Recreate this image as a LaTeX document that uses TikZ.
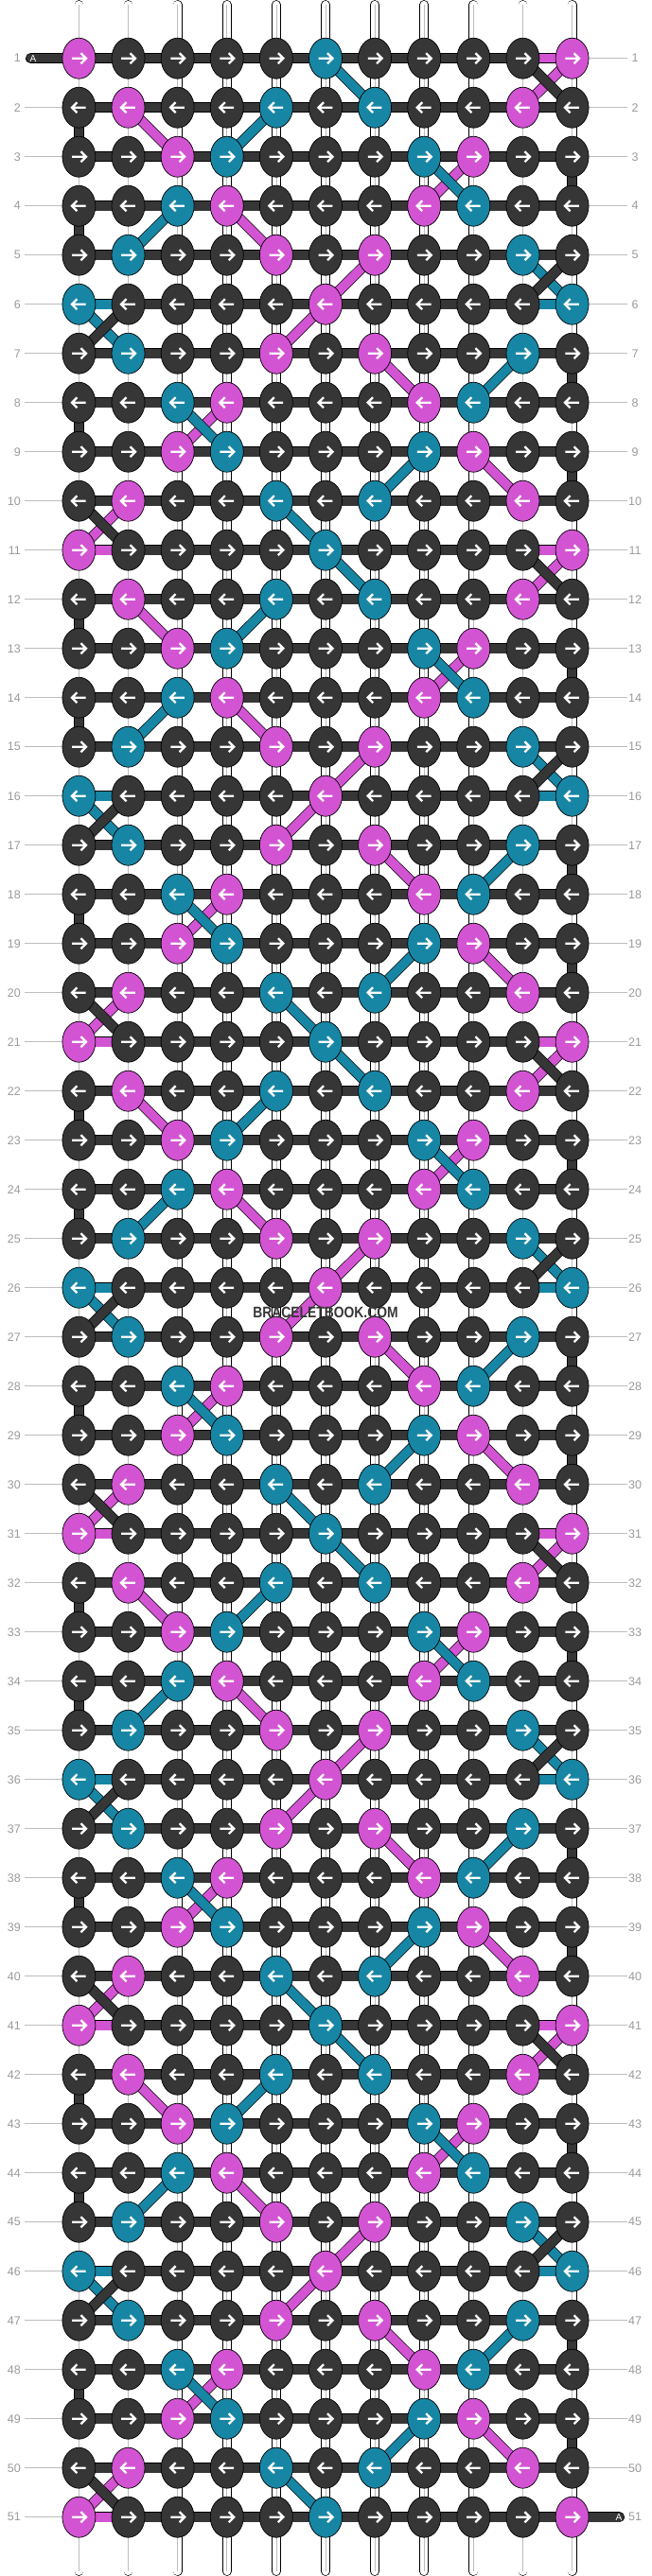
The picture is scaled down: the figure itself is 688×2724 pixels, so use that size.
\documentclass[tikz,border=0pt]{standalone}
\usepackage{fontspec}
\setmainfont{Liberation Sans}
\usetikzlibrary{matrix,shapes.geometric}

\definecolor{strdark}{HTML}{363636}
\definecolor{strpink}{HTML}{D354D3}
\definecolor{strteal}{HTML}{1786A4}
\definecolor{rowgray}{HTML}{9A9A9A}
\definecolor{tickgray}{HTML}{BDBDBD}

\pgfdeclarelayer{back}
\pgfsetlayers{back,main}

\tikzset{
	knot/.style={ellipse, draw=black, line width=0.7pt, fill=strdark, minimum width=35pt, minimum height=43pt, inner sep=0pt, outer sep=0pt,
		path picture={\ifodd\pgfmatrixcurrentrow
			\draw[arr, shift={(path picture bounding box.center)}] (-7.3,0) -- (6.5,0) (2,-5.5) -- (7.5,0) -- (2,5.5);
			\else
			\draw[arr, shift={(path picture bounding box.center)}] (7.3,0) -- (-6.5,0) (-2,-5.5) -- (-7.5,0) -- (-2,5.5);
			\fi}},
	pk/.style={fill=strpink},
	tk/.style={fill=strteal},
	arr/.style={white, line width=2.3pt, line join=miter},
	weft/.style={draw=black, line width=0.7pt, double=#1, double distance=9.6pt},
	weft/.default=strdark,
	warp/.style={draw=black, line width=0.7pt, double=white, double distance=8.4pt, line cap=round},
	warpcore/.style={draw=tickgray, line width=0.6pt},
	rownum/.style={text=rowgray, font=\fontsize{12.5}{12.5}\selectfont, inner sep=0pt},
	tick/.style={draw=tickgray, line width=1pt},
	alabel/.style={text=white, font=\fontsize{10}{10}\selectfont, inner sep=0pt},
	wmark/.style={text=strdark, font=\bfseries\fontsize{16.3}{16.3}\selectfont, inner sep=0pt}
}

\begin{document}
\begin{tikzpicture}[x=1pt,y=-1pt]
	\useasboundingbox (0,0) rectangle (688,2724);
	\matrix (m) [matrix of nodes, nodes in empty cells, nodes={knot},
		row sep={52pt,between origins}, column sep={52.12pt,between origins}] at (344,1361.7) {
		|[pk]| & & & & & |[tk]| & & & & & |[pk]| \\
		& |[pk]| & & & |[tk]| & & |[tk]| & & & |[pk]| & \\
		& & |[pk]| & |[tk]| & & & & |[tk]| & |[pk]| & & \\
		& & |[tk]| & |[pk]| & & & & |[pk]| & |[tk]| & & \\
		& |[tk]| & & & |[pk]| & & |[pk]| & & & |[tk]| & \\
		|[tk]| & & & & & |[pk]| & & & & & |[tk]| \\
		& |[tk]| & & & |[pk]| & & |[pk]| & & & |[tk]| & \\
		& & |[tk]| & |[pk]| & & & & |[pk]| & |[tk]| & & \\
		& & |[pk]| & |[tk]| & & & & |[tk]| & |[pk]| & & \\
		& |[pk]| & & & |[tk]| & & |[tk]| & & & |[pk]| & \\
		|[pk]| & & & & & |[tk]| & & & & & |[pk]| \\
		& |[pk]| & & & |[tk]| & & |[tk]| & & & |[pk]| & \\
		& & |[pk]| & |[tk]| & & & & |[tk]| & |[pk]| & & \\
		& & |[tk]| & |[pk]| & & & & |[pk]| & |[tk]| & & \\
		& |[tk]| & & & |[pk]| & & |[pk]| & & & |[tk]| & \\
		|[tk]| & & & & & |[pk]| & & & & & |[tk]| \\
		& |[tk]| & & & |[pk]| & & |[pk]| & & & |[tk]| & \\
		& & |[tk]| & |[pk]| & & & & |[pk]| & |[tk]| & & \\
		& & |[pk]| & |[tk]| & & & & |[tk]| & |[pk]| & & \\
		& |[pk]| & & & |[tk]| & & |[tk]| & & & |[pk]| & \\
		|[pk]| & & & & & |[tk]| & & & & & |[pk]| \\
		& |[pk]| & & & |[tk]| & & |[tk]| & & & |[pk]| & \\
		& & |[pk]| & |[tk]| & & & & |[tk]| & |[pk]| & & \\
		& & |[tk]| & |[pk]| & & & & |[pk]| & |[tk]| & & \\
		& |[tk]| & & & |[pk]| & & |[pk]| & & & |[tk]| & \\
		|[tk]| & & & & & |[pk]| & & & & & |[tk]| \\
		& |[tk]| & & & |[pk]| & & |[pk]| & & & |[tk]| & \\
		& & |[tk]| & |[pk]| & & & & |[pk]| & |[tk]| & & \\
		& & |[pk]| & |[tk]| & & & & |[tk]| & |[pk]| & & \\
		& |[pk]| & & & |[tk]| & & |[tk]| & & & |[pk]| & \\
		|[pk]| & & & & & |[tk]| & & & & & |[pk]| \\
		& |[pk]| & & & |[tk]| & & |[tk]| & & & |[pk]| & \\
		& & |[pk]| & |[tk]| & & & & |[tk]| & |[pk]| & & \\
		& & |[tk]| & |[pk]| & & & & |[pk]| & |[tk]| & & \\
		& |[tk]| & & & |[pk]| & & |[pk]| & & & |[tk]| & \\
		|[tk]| & & & & & |[pk]| & & & & & |[tk]| \\
		& |[tk]| & & & |[pk]| & & |[pk]| & & & |[tk]| & \\
		& & |[tk]| & |[pk]| & & & & |[pk]| & |[tk]| & & \\
		& & |[pk]| & |[tk]| & & & & |[tk]| & |[pk]| & & \\
		& |[pk]| & & & |[tk]| & & |[tk]| & & & |[pk]| & \\
		|[pk]| & & & & & |[tk]| & & & & & |[pk]| \\
		& |[pk]| & & & |[tk]| & & |[tk]| & & & |[pk]| & \\
		& & |[pk]| & |[tk]| & & & & |[tk]| & |[pk]| & & \\
		& & |[tk]| & |[pk]| & & & & |[pk]| & |[tk]| & & \\
		& |[tk]| & & & |[pk]| & & |[pk]| & & & |[tk]| & \\
		|[tk]| & & & & & |[pk]| & & & & & |[tk]| \\
		& |[tk]| & & & |[pk]| & & |[pk]| & & & |[tk]| & \\
		& & |[tk]| & |[pk]| & & & & |[pk]| & |[tk]| & & \\
		& & |[pk]| & |[tk]| & & & & |[tk]| & |[pk]| & & \\
		& |[pk]| & & & |[tk]| & & |[tk]| & & & |[pk]| & \\
		|[pk]| & & & & & |[tk]| & & & & & |[pk]| \\
	};

	\foreach \r in {1,...,51} {
		\node[rownum, anchor=east, inner xsep=4pt] (nl-\r) at (26,0 |- m-\r-1) {\r};
		\node[rownum, minimum width=15pt] (nr-\r) at (671,0 |- m-\r-11) {\r};
	}
	\foreach \c in {1,...,11} {
		\coordinate (top-\c) at (m-1-\c |- 0,5);
		\coordinate (bot-\c) at (m-51-\c |- 0,2719);
	}
	\coordinate (wstart) at (32.5,0 |- m-1-1);
	\node[alabel] (ain) at (35,0 |- m-1-1) {A};
	\coordinate (wend) at (654.5,0 |- m-51-11);
	\node[alabel] (aout) at (654,0 |- m-51-11) {A};
	\node[wmark] (wm) at (344,1387.7) {\scalebox{.85}[1]{BRACELETBOOK.COM}};

	\begin{pgfonlayer}{back}
		\foreach \c in {1,...,11} {
			\draw[warp] (top-\c) -- (bot-\c);
			\draw[warpcore] (top-\c) -- (bot-\c);
		}
		\foreach \r in {1,...,51}
			\draw[weft] (m-\r-1.center) -- (m-\r-11.center);
		\draw[weft, line cap=round] (wstart) -- (m-1-1.center);
		\draw[weft, line cap=round] (m-51-11.center) -- (wend);
		\foreach \k in {0,10,20,30,40}
			\foreach \p/\c in {2/1,3/11,4/1,7/11,8/1,9/11} {
				\pgfmathtruncatemacro\r{\p+\k}
				\pgfmathtruncatemacro\s{\r+1}
				\draw[weft] (m-\r-\c.center) -- (m-\s-\c.center);
			}
		\foreach \r in {11,21,31,41,51}
			\draw[weft=strpink] (m-\r-1.center) -- (m-\r-2.center);
		\foreach \r in {1,11,21,31,41}
			\draw[weft=strpink] (m-\r-10.center) -- (m-\r-11.center);
		\foreach \r in {6,16,26,36,46} {
			\draw[weft=strteal] (m-\r-1.center) -- (m-\r-2.center);
			\draw[weft=strteal] (m-\r-10.center) -- (m-\r-11.center);
		}
		\foreach \col/\lst in {strpink/{1/11/10,2/2/3,3/9/8,4/4/5,5/7/6,6/6/5,7/7/8,8/4/3,9/9/10,10/2/1},
			strteal/{1/6/7,2/5/4,3/8/9,4/3/2,5/10/11,6/1/2,7/10/9,8/3/4,9/8/7,10/5/6},
			strdark/{1/10/11,5/11/10,6/2/1,10/1/2}}
			\foreach \k in {0,10,20,30,40}
				\foreach \p/\a/\b in \lst {
					\pgfmathtruncatemacro\r{\p+\k}
					\pgfmathtruncatemacro\s{\r+1}
					\draw[weft=\col] (m-\r-\a.center) -- (m-\s-\b.center);
				}
		\foreach \r in {2,...,51}
			\draw[tick] (nl-\r) -- (m-\r-1);
		\foreach \r in {1,...,50}
			\draw[tick] (m-\r-11) -- (nr-\r);
	\end{pgfonlayer}
\end{tikzpicture}
\end{document}
